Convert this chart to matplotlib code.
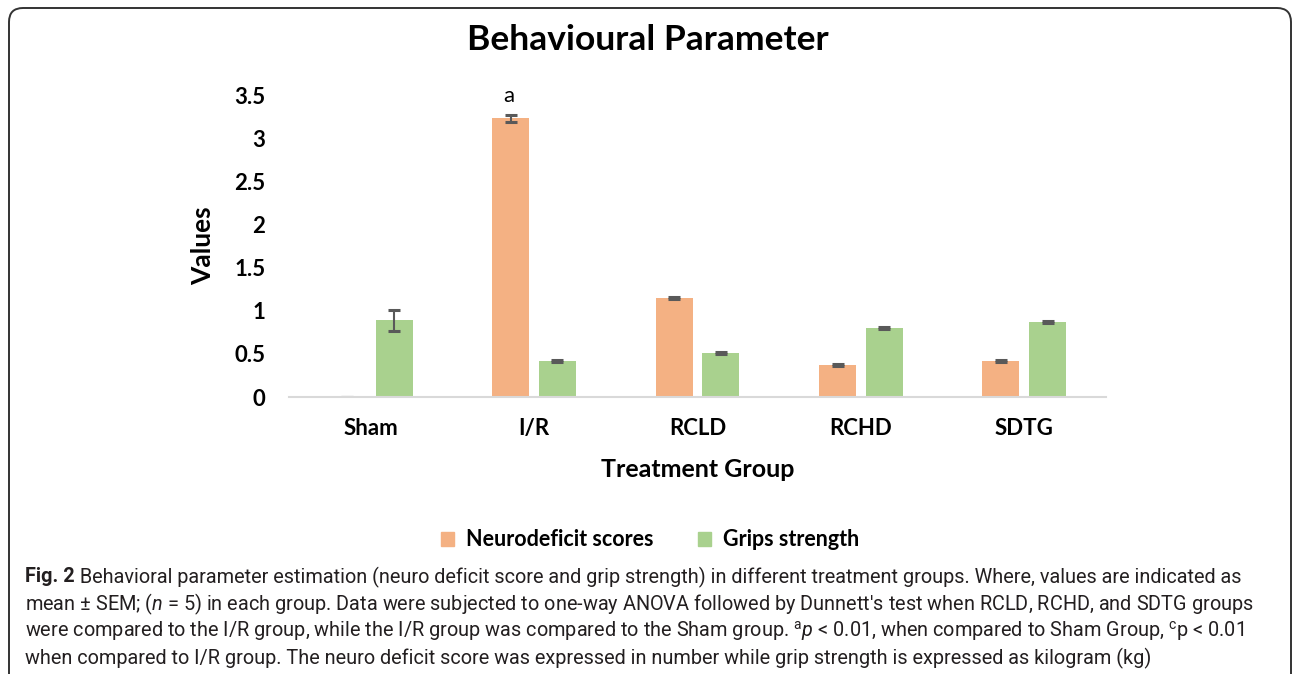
import numpy as np
import matplotlib
matplotlib.use("Agg")
import matplotlib.pyplot as plt
from matplotlib.patches import FancyBboxPatch, Patch

groups = ["Sham", "I/R", "RCLD", "RCHD", "SDTG"]
neuro = [0.0, 3.23, 1.15, 0.37, 0.42]
neuro_err = [0.0, 0.04, 0.01, 0.01, 0.01]
grip = [0.89, 0.42, 0.51, 0.80, 0.87]
grip_err = [0.12, 0.01, 0.01, 0.01, 0.01]
series_names = ["Neurodeficit scores", "Grips strength"]
yticks = [0, 0.5, 1, 1.5, 2, 2.5, 3, 3.5]
ytick_labels = ["0", "0.5", "1", "1.5", "2", "2.5", "3", "3.5"]

fig_label = "Fig. 2"
caption = [
    " Behavioral parameter estimation (neuro deficit score and grip strength) in different treatment groups. Where, values are indicated as",
    r"mean ± SEM; ($\mathit{n}$ = 5) in each group. Data were subjected to one-way ANOVA followed by Dunnett's test when RCLD, RCHD, and SDTG groups",
    r"were compared to the I/R group, while the I/R group was compared to the Sham group. $^{\mathrm{a}}\mathit{p}$ < 0.01, when compared to Sham Group, $^{\mathrm{c}}$p < 0.01",
    r"when compared to I/R group. The neuro deficit score was expressed in number while grip strength is expressed as kilogram (kg)",
]

ORANGE = "#F4B183"
GREEN = "#A9D18E"
chart_font = "Lato"
cap_font = "Roboto"

plt.rcParams["mathtext.fontset"] = "custom"
plt.rcParams["mathtext.rm"] = cap_font
plt.rcParams["mathtext.it"] = cap_font + ":italic"

W, H = 1292, 674
fig = plt.figure(figsize=(W / 100, H / 100), dpi=100)

# rounded frame around the figure
frame = FancyBboxPatch((9, -20), 1282, H - 8 + 20,
                       boxstyle="round,pad=0,rounding_size=14",
                       transform=None, fill=False, edgecolor="#333333", linewidth=1.4)
fig.patches.append(frame)

ax = fig.add_axes([289 / W, 1 - 397 / H, (1106 - 289) / W, (397 - 95) / H])
x = np.arange(len(groups))
w = 0.227
off = 0.143
err_kw = dict(ecolor="#595959", elinewidth=1.5, capsize=4.5, capthick=2.2)
ax.bar(x - off, neuro, w, color=ORANGE, yerr=neuro_err, error_kw=err_kw)
ax.bar(x + off, grip, w, color=GREEN, yerr=grip_err, error_kw=err_kw)

ax.text(x[1] - off - 0.01, 3.49, "a", ha="center", va="center",
        fontsize=16, family=chart_font)

ax.set_xlim(-0.5, len(groups) - 0.5)
ax.set_ylim(0, 3.5)
ax.set_yticks(yticks)
ax.set_yticklabels(ytick_labels)
ax.set_xticks(x)
ax.set_xticklabels(groups)
for lab in ax.get_xticklabels() + ax.get_yticklabels():
    lab.set_fontfamily(chart_font)
    lab.set_fontweight("bold")
    lab.set_fontsize(16)
ax.tick_params(axis="both", length=0)
ax.tick_params(axis="y", pad=17)
ax.tick_params(axis="x", pad=15)
for s in ["top", "right", "left"]:
    ax.spines[s].set_visible(False)
ax.spines["bottom"].set_color("#D9D9D9")
ax.spines["bottom"].set_linewidth(1.5)

ax.set_ylabel("Values", fontsize=19, fontweight="bold", family=chart_font, labelpad=14)
ax.set_xlabel("Treatment Group", fontsize=18, fontweight="bold", family=chart_font, labelpad=14)

fig.text(648 / W, 1 - 40 / H, "Behavioural Parameter", ha="center", va="center",
         fontsize=25.5, fontweight="bold", family=chart_font)

handles = [Patch(color=ORANGE), Patch(color=GREEN)]
fig.legend(handles, series_names, loc="center", bbox_to_anchor=(650 / W, 1 - 540 / H),
           ncol=2, frameon=False, handlelength=0.6, handleheight=0.6, handletextpad=0.55,
           columnspacing=2.1, prop={"family": chart_font, "weight": "bold", "size": 15.5})

texts = []
for i, line in enumerate(caption):
    t = fig.text(25 / W, 1 - (577 + 27 * i) / H, line, ha="left", va="center",
                 fontsize=14, family=cap_font, color="#231F20")
    texts.append(t)
bold = fig.text(25 / W, 1 - 577 / H, fig_label, ha="left", va="center",
                fontsize=14, family=cap_font, fontweight="bold", color="#231F20")

# shrink caption so the second line spans the same width as in the source
fig.canvas.draw()
r = fig.canvas.get_renderer()
wid = texts[1].get_window_extent(r).width
scale = (1254 - 25) / wid
for t in texts + [bold]:
    t.set_fontsize(14 * scale)
fig.canvas.draw()
bw = bold.get_window_extent(r).width
texts[0].set_x((25 + bw) / W)

fig.savefig("out.png", dpi=100)
